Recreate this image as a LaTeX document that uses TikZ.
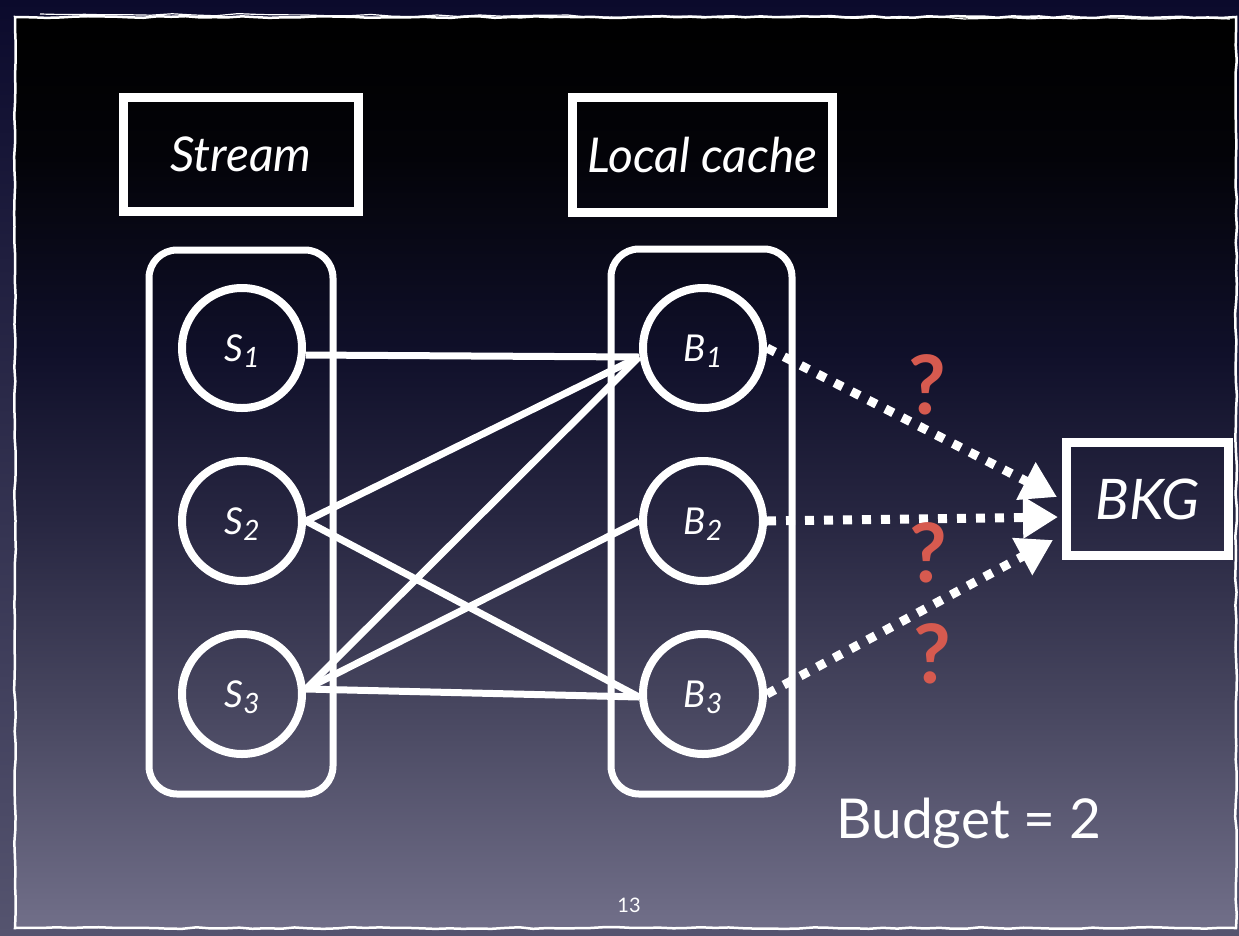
\documentclass[tikz,border=0pt]{standalone}
\usepackage{fontspec}
\setmainfont{Lato}
\usetikzlibrary{arrows.meta,decorations.pathmorphing}
\definecolor{outertop}{HTML}{0B0A2C}
\definecolor{outerbot}{HTML}{55546F}
\definecolor{sbot}{HTML}{716F89}
\definecolor{sm1}{HTML}{46455E}
\definecolor{sm2}{HTML}{272641}
\definecolor{sm3}{HTML}{10102A}
\definecolor{sm4}{HTML}{030308}
\definecolor{qred}{HTML}{D65A4F}
\pgfdeclareverticalshading{slideshade}{100bp}{color(0bp)=(sbot); color(25bp)=(sbot); color(37.5bp)=(sm1); color(47.5bp)=(sm2); color(56.5bp)=(sm3); color(67.5bp)=(sm4); color(75bp)=(black); color(100bp)=(black)}
\begin{document}
\begin{tikzpicture}[x=1pt,y=-1pt,
  labelbox/.style={draw=white, line width=9pt, inner sep=0pt, text=white, font=\fontsize{48}{48}\selectfont\itshape},
  circ/.style={circle, draw=white, line width=8pt, minimum size=120pt, inner sep=0pt, text=white, font=\fontsize{37}{37}\selectfont\itshape},
  group/.style={draw=white, line width=7pt, rounded corners=28pt},
  conn/.style={white, line width=7pt},
  dotconn/.style={white, line width=9pt, dash pattern=on 9pt off 10pt, -{Triangle[length=35pt,width=40pt]}},
  qm/.style={text=qred, font=\fontsize{82}{82}\selectfont\bfseries, inner sep=0pt},
  plain/.style={text=white, inner sep=0pt}]
\useasboundingbox (0,0) rectangle (1239,935);
\shade[top color=outertop, bottom color=outerbot] (0,0) rectangle (1239,935);
\shade[shading=slideshade] (15,17) rectangle (1236,928);
\draw[white, line width=2.5pt, decorate, decoration={random steps, segment length=14pt, amplitude=0.9pt}] (15,17) rectangle (1236,928);
\draw[white, line width=1.2pt, decorate, decoration={random steps, segment length=22pt, amplitude=1.2pt}] (40,14) -- (1230,19);

% title boxes
\node[labelbox, minimum width=235pt, minimum height=114pt] (stream) at (241,154.5) {Stream};
\node[labelbox, minimum width=260pt, minimum height=115pt] (cache) at (702.5,155) {Local cache};

% groups
\draw[group] (149,250) rectangle (333,794);
\draw[group] (611,249) rectangle (792,794);

% circles
\newcommand{\sublbl}[2]{#1\smash{\raisebox{-0.18em}{\fontsize{28}{28}\selectfont #2}}}
\node[circ] (S1) at (242,348) {\sublbl{S}{1}};
\node[circ] (S2) at (242,521) {\sublbl{S}{2}};
\node[circ] (S3) at (242,694) {\sublbl{S}{3}};
\node[circ] (B1) at (703,348) {\sublbl{B}{1}};
\node[circ] (B2) at (703,521) {\sublbl{B}{2}};
\node[circ] (B3) at (703,694) {\sublbl{B}{3}};

% connectors
\draw[conn] ([yshift=-7pt]S1.east) -- ([yshift=-9pt]B1.west);
\draw[conn] (S2.east) -- ([yshift=-9pt]B1.west);
\draw[conn] (S2.east) -- ([yshift=-3pt]B3.west);
\draw[conn] ([yshift=5pt]S3.east) -- ([yshift=-9pt]B1.west);
\draw[conn] ([yshift=5pt]S3.east) -- (B2.west);
\draw[conn] ([yshift=5pt]S3.east) -- ([yshift=-3pt]B3.west);

% BKG
\node[labelbox, minimum width=162pt, minimum height=113pt, font=\fontsize{56}{56}\selectfont\itshape] (BKG) at (1147.5,499) {BKG};
\coordinate (t1) at ([shift={(-5,-2)}]BKG.west);
\coordinate (t2) at ([shift={(-4,18)}]BKG.west);
\coordinate (t3) at ([shift={(-9,41)}]BKG.west);
\draw[dotconn] (B1.east) -- (t1);
\draw[dotconn] (B2.east) -- (t2);
\draw[dotconn] (B3.east) -- (t3);

% question marks
\node[qm] (q1) at (927,385) {?};
\node[qm] (q2) at (928,553) {?};
\node[qm] (q3) at (932,654) {?};

% budget and page number
\node[plain, anchor=base, font=\fontsize{55}{55}\selectfont] (budget) at (969,838) {Budget = 2};
\node[plain, anchor=base, font=\fontsize{20}{20}\selectfont] (page) at (629,912) {13};
\end{tikzpicture}
\end{document}
